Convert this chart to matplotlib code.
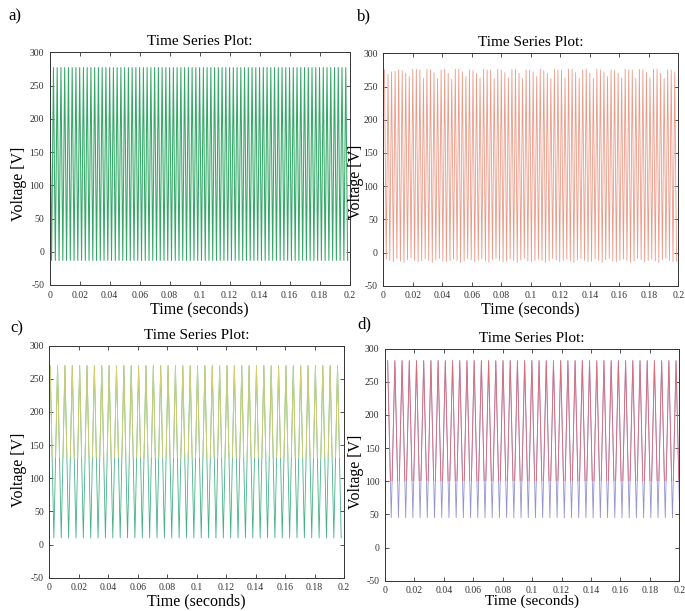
import numpy as np
import matplotlib.pyplot as plt
from matplotlib.patches import Rectangle

plt.rcParams['font.family'] = ['Liberation Serif', 'DejaVu Serif']
plt.rcParams['axes.unicode_minus'] = False

# a) steady waveform: one peak and one trough per cycle
a_period = 0.0025
a_peak = 277
a_trough = -13
a_cycles = 80

# b) peaks and troughs drift from cycle to cycle
b_period = 0.0024
b_peaks = [275, 268, 272, 273, 275, 274, 270, 265, 276, 276, 275, 262,
           276, 275, 271, 262, 275, 276, 270, 261, 276, 276, 272, 265,
           275, 274, 270, 263, 276, 275, 275, 262, 276, 275, 271, 263,
           276, 276, 270, 262, 275, 275, 272, 265, 276, 274, 270, 262,
           276, 275, 275, 263, 276, 276, 271, 262, 275, 276, 270, 262,
           276, 275, 272, 265, 275, 274, 270, 263, 276, 275, 275, 262,
           276, 275, 271, 263, 276, 276, 270, 262, 275, 275, 272]
b_troughs = [-10, -12, -14, -9, -13, -15, -11, -8, -12, -14, -13, -10,
             -12, -15, -11, -9, -13, -14, -12, -10, -12, -15, -13, -9,
             -11, -14, -12, -10, -13, -15, -11, -9, -12, -14, -13, -10,
             -12, -15, -11, -9, -13, -14, -12, -10, -12, -15, -13, -9,
             -11, -14, -12, -10, -13, -15, -11, -9, -12, -14, -13, -10,
             -12, -15, -11, -9, -13, -14, -12, -10, -12, -15, -13, -9,
             -11, -14, -12, -10, -13, -15, -11, -9, -12, -14, -13]

# c) triangular waveform, yellow above the split level, green below
c_period = 0.005
c_first_peak = 0.0006
c_peak = 270
c_trough = 10
c_cycles = 40
c_split = 130

# d) red above the split level, blue below
d_period = 0.0049
d_first_peak = 0.0018
d_peak = 282
d_trough = 45
d_cycles = 41
d_split = 100

x_ticks = [0, 0.02, 0.04, 0.06, 0.08, 0.1, 0.12, 0.14, 0.16, 0.18, 0.2]
x_tick_labels = ['0', '0.02', '0.04', '0.06', '0.08', '0.1', '0.12', '0.14',
                 '0.16', '0.18', '0.2']
y_ticks = [-50, 0, 50, 100, 150, 200, 250, 300]

W, H = 685, 611
fig = plt.figure(figsize=(W / 100, H / 100), dpi=100)


def axes_px(left, right, top, bottom):
    return fig.add_axes([left / W, 1 - bottom / H, (right - left) / W, (bottom - top) / H])


def zigzag(first_peak, period, peaks, troughs):
    peaks = np.asarray(peaks, dtype=float)
    troughs = np.asarray(troughs, dtype=float)
    n = len(peaks)
    t = np.empty(2 * n)
    v = np.empty(2 * n)
    t[0::2] = first_peak + period * np.arange(n)
    t[1::2] = first_peak + period * (np.arange(n) + 0.5)
    v[0::2] = peaks
    v[1::2] = troughs
    return t, v


def style(ax, label_x, label_y, xlabel_pad=1, xlabel_size=11.5):
    ax.set_xlim(0, 0.2)
    ax.set_ylim(-50, 300)
    ax.set_xticks(x_ticks)
    ax.set_xticklabels(x_tick_labels)
    ax.set_yticks(y_ticks)
    ax.tick_params(direction='in', length=3, width=0.6, top=True, right=True,
                   labelsize=7, colors='#333333', pad=4)
    for s in ax.spines.values():
        s.set_linewidth(0.7)
        s.set_color('#333333')
    ax.set_title('Time Series Plot:', fontsize=11, pad=5)
    ax.set_xlabel('Time (seconds)', fontsize=xlabel_size, labelpad=xlabel_pad)
    ax.set_ylabel('Voltage [V]', fontsize=11.5)
    # ylabel placed in pixels relative to the axes box (x is its right edge)
    x0, y0, w, h = ax.get_position().bounds
    ax.yaxis.set_label_coords((label_x / W - x0) / w, (1 - label_y / H - y0) / h)


def split_plot(ax, t, v, split, upper, lower, lw):
    ax.plot(t, v, color=lower, lw=lw)
    line, = ax.plot(t, v, color=upper, lw=lw)
    clip = Rectangle((-1, split), 2, 1000, transform=ax.transData)
    line.set_clip_path(clip)


# a)
ax_a = axes_px(49.7, 349.5, 52.3, 285)
t, v = zigzag(0.0, a_period, [a_peak] * a_cycles, [a_trough] * a_cycles)
ax_a.plot(t, v, color='#35a868', lw=0.75)
style(ax_a, 27, 184)

# b)
ax_b = axes_px(383.3, 678.3, 53.3, 285.7)
t, v = zigzag(0.0008, b_period, b_peaks, b_troughs)
ax_b.plot(t, v, color='#ea9a86', lw=0.6)
style(ax_b, 364, 182)

# c)
ax_c = axes_px(49.3, 344, 345.7, 577.7)
t, v = zigzag(c_first_peak, c_period, [c_peak] * c_cycles, [c_trough] * c_cycles)
split_plot(ax_c, t, v, c_split, '#d8d172', '#45b088', 0.6)
style(ax_c, 27, 470, xlabel_pad=0.5)

# d)
ax_d = axes_px(385, 679.3, 348.7, 580.7)
t, v = zigzag(d_first_peak, d_period, [d_peak] * d_cycles, [d_trough] * d_cycles)
split_plot(ax_d, t, v, d_split, '#dc6c76', '#9393d4', 0.6)
style(ax_d, 364, 472, xlabel_pad=-0.5, xlabel_size=11)

for label, x, y in [('a)', 8, 20), ('b)', 357, 20), ('c)', 10, 332), ('d)', 357, 328)]:
    fig.text(x / W, 1 - y / H, label, fontsize=12, va='baseline')

fig.savefig('out.png', dpi=100)
